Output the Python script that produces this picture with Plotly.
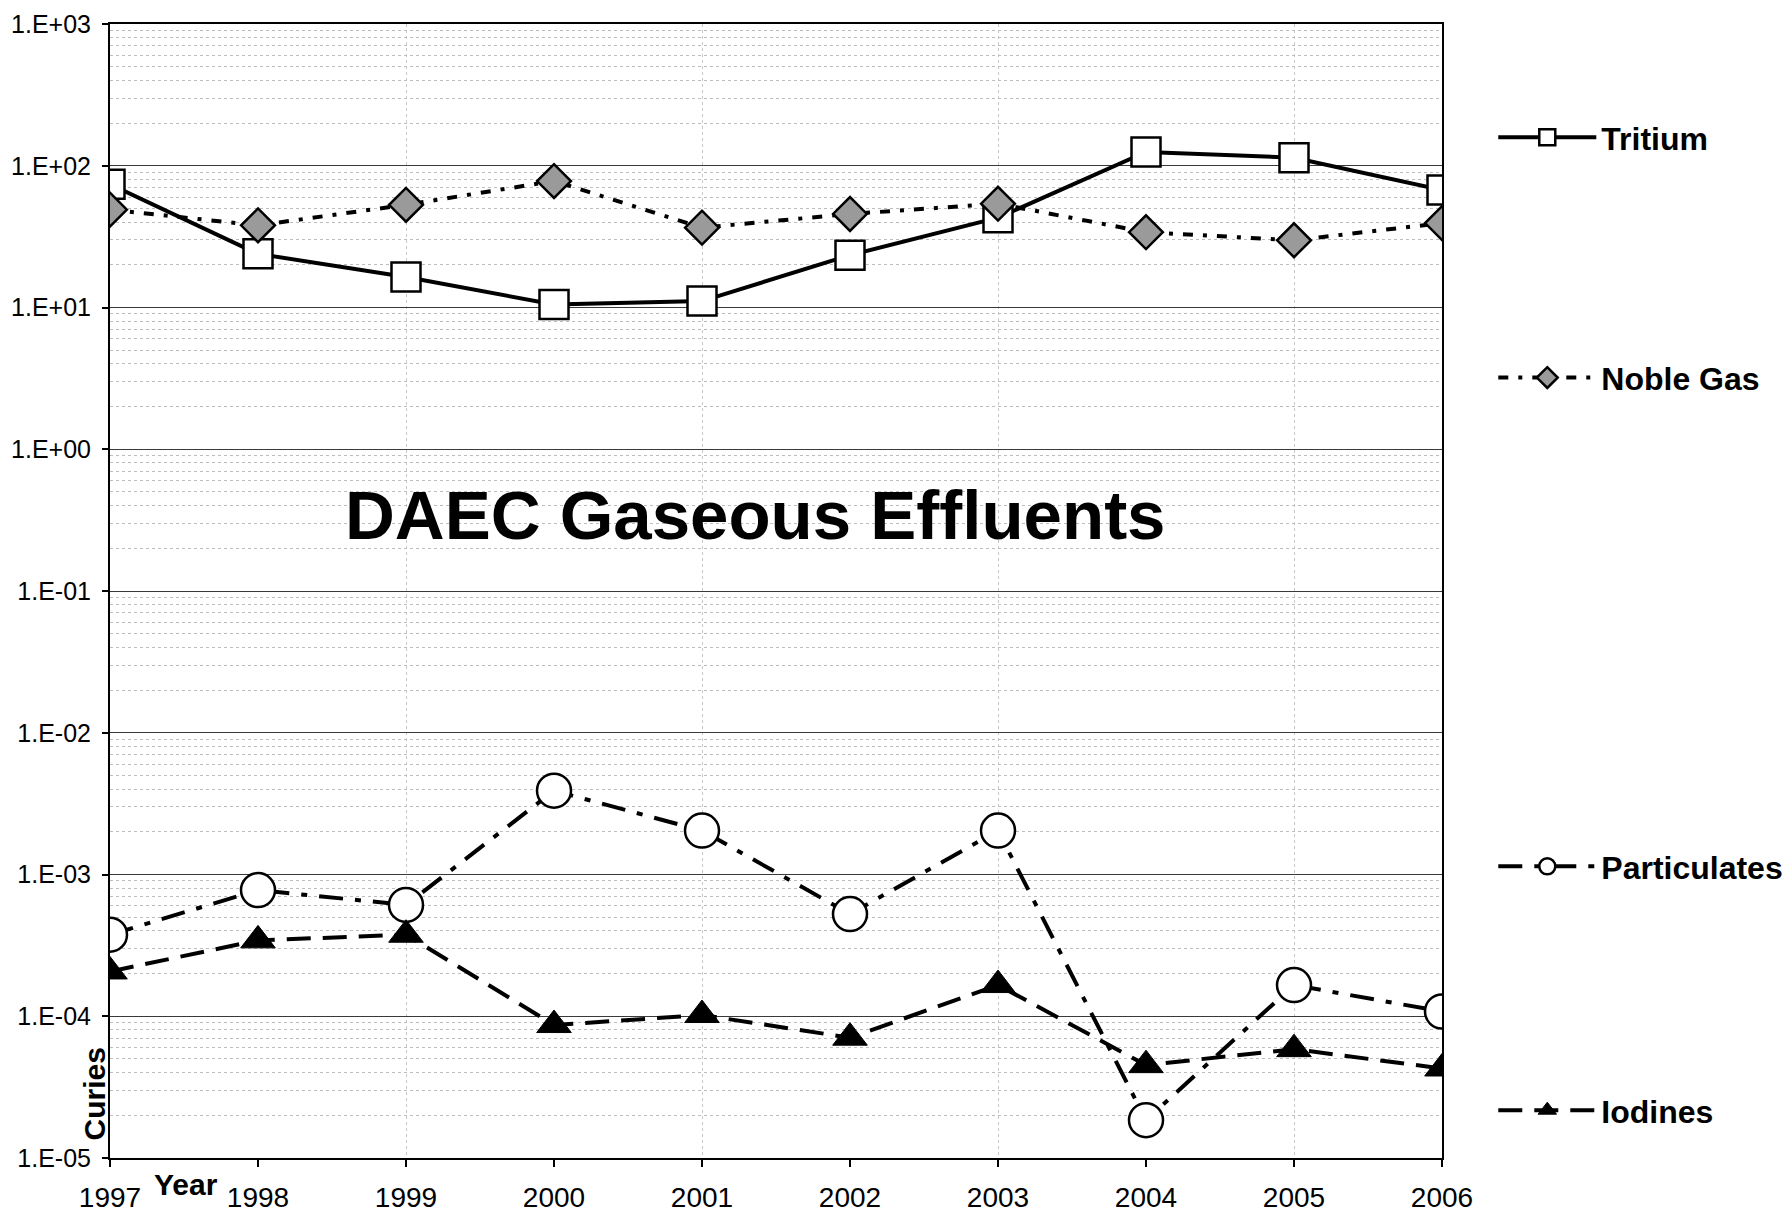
import plotly.graph_objects as go

years = [1997, 1998, 1999, 2000, 2001, 2002, 2003, 2004, 2005, 2006]
tritium = [74, 23.9, 16.4, 10.5, 11.1, 23.4, 43, 125, 114, 67.5]
noble_gas = [49, 38, 53, 78, 36.6, 45.7, 54, 34, 29.8, 39.4]
particulates = [3.76e-4, 7.76e-4, 6.1e-4, 3.9e-3, 2.04e-3, 5.26e-4, 2.04e-3, 1.85e-5, 1.66e-4, 1.08e-4]
iodines = [2.07e-4, 3.43e-4, 3.76e-4, 8.67e-5, 1.02e-4, 7.06e-5, 1.66e-4, 4.52e-5, 5.86e-5, 4.28e-5]

y_tick_vals = [1e-5, 1e-4, 1e-3, 1e-2, 1e-1, 1e0, 1e1, 1e2, 1e3]
y_tick_text = ["1.E-05", "1.E-04", "1.E-03", "1.E-02", "1.E-01", "1.E+00", "1.E+01", "1.E+02", "1.E+03"]
x_grid_years = [1999, 2001, 2003, 2005]

FONT = "Liberation Sans, Arial, sans-serif"

minor_vals = [m * 10.0 ** e for e in range(-5, 3) for m in range(2, 10)]

fig = go.Figure()

fig.add_trace(go.Scatter(
    x=years, y=tritium, name="Tritium", mode="lines+markers",
    line=dict(color="black", width=4, dash="solid"),
    marker=dict(symbol="square", size=29, color="white", line=dict(color="black", width=2.5)),
    legend="legend",
))
fig.add_trace(go.Scatter(
    x=years, y=noble_gas, name="Noble Gas", mode="lines+markers",
    line=dict(color="black", width=4, dash="10px,10px,4px,10px"),
    marker=dict(symbol="diamond", size=26, color="#9a9a9a", line=dict(color="black", width=2.5)),
    legend="legend2",
))
fig.add_trace(go.Scatter(
    x=years, y=particulates, name="Particulates", mode="lines+markers",
    line=dict(color="black", width=4, dash="24px,12px,6px,12px"),
    marker=dict(symbol="circle", size=34, color="white", line=dict(color="black", width=2.5)),
    legend="legend3",
))
fig.add_trace(go.Scatter(
    x=years, y=iodines, name="Iodines", mode="lines+markers",
    line=dict(color="black", width=4, dash="24px,12px"),
    marker=dict(symbol="triangle-up", size=30, color="black", line=dict(color="black", width=1)),
    legend="legend4",
))

leg_common = dict(
    xanchor="left", yanchor="middle", x=1.0385,
    font=dict(family=FONT, size=32, color="black", weight="bold"),
    bgcolor="rgba(0,0,0,0)", borderwidth=0, itemwidth=98,
)
fig.update_layout(
    legend=dict(y=0.900, **leg_common),
    legend2=dict(y=0.688, **leg_common),
    legend3=dict(y=0.257, **leg_common),
    legend4=dict(y=0.042, **leg_common),
)

fig.update_layout(
    width=1784, height=1205,
    margin=dict(l=102, r=350, t=16, b=55, autoexpand=False),
    paper_bgcolor="white", plot_bgcolor="white",
    font=dict(family=FONT, color="black"),
    showlegend=True,
    xaxis=dict(
        range=[1997, 2006], tickvals=years, ticktext=[str(y) for y in years],
        showgrid=False, zeroline=False, automargin=False,
        showline=True, linecolor="black", linewidth=2, mirror=True,
        ticks="outside", ticklen=7, tickwidth=1.5, tickcolor="black",
        tickfont=dict(family=FONT, size=28, color="black"),
        ticklabelstandoff=6,
        minor=dict(tickvals=x_grid_years, showgrid=True, gridcolor="#c8c8c8",
                   griddash="dot", gridwidth=1, ticks=""),
    ),
    yaxis=dict(
        type="log", range=[-5, 3], tickvals=y_tick_vals, ticktext=y_tick_text,
        showgrid=True, gridcolor="#3a3a3a", gridwidth=1.2, zeroline=False, automargin=False,
        showline=True, linecolor="black", linewidth=2, mirror=True,
        ticks="outside", ticklen=6, tickwidth=1.5, tickcolor="black",
        tickfont=dict(family=FONT, size=25, color="black"),
        ticklabelstandoff=6,
        minor=dict(tickvals=minor_vals, showgrid=True, gridcolor="#bdbdbd",
                   griddash="dot", gridwidth=1, ticks=""),
    ),
    annotations=[
        dict(text="<b>DAEC Gaseous Effluents</b>", xref="paper", yref="paper",
             x=0.4846, y=0.5666, xanchor="center", yanchor="middle", showarrow=False,
             font=dict(family=FONT, size=69, color="black")),
        dict(text="<b>Curies</b>", xref="paper", yref="paper",
             x=-0.012, y=0.056, xanchor="center", yanchor="middle", textangle=-90,
             showarrow=False, font=dict(family=FONT, size=30, color="black")),
        dict(text="<b>Year</b>", xref="paper", yref="paper",
             x=0.057, y=-0.023, xanchor="center", yanchor="middle",
             showarrow=False, font=dict(family=FONT, size=30, color="black")),
    ],
)

fig.write_html("out.html")
